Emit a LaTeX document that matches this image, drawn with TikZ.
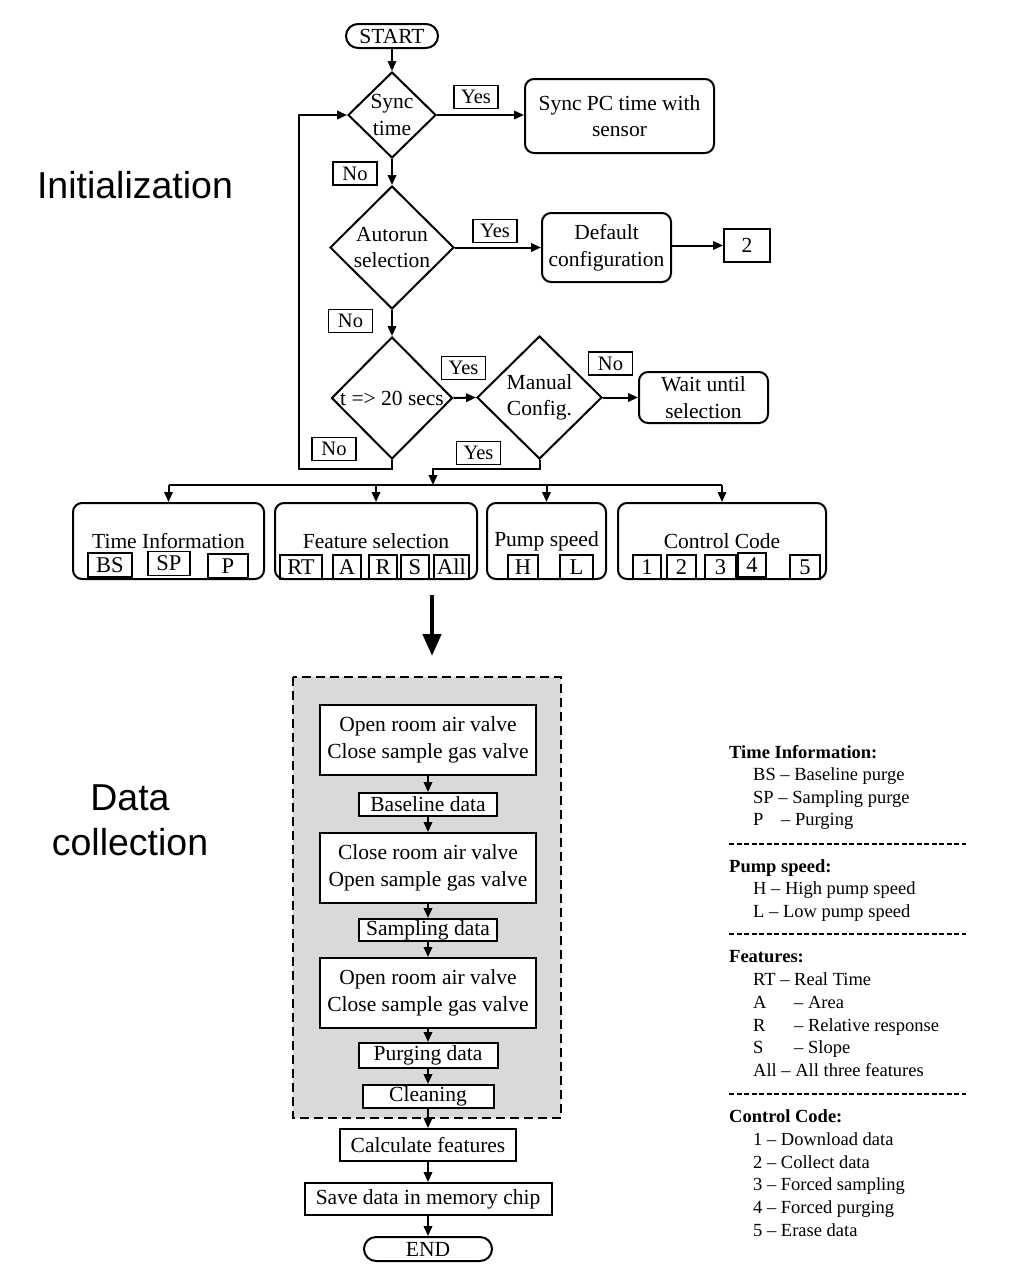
\documentclass[tikz,border=0pt]{standalone}
\usepackage{fontspec}
\setmainfont{Liberation Serif}
\newfontfamily\arialfont{Liberation Sans}
\usetikzlibrary{shapes.geometric,arrows.meta}
\newcommand\fA{\fontsize{21.5}{26.5}\selectfont}
\newcommand\fS{\fontsize{22.5}{26}\selectfont}
\newcommand\fB{\fontsize{20.5}{24}\selectfont}
\newcommand\fL{\fontsize{18.5}{22}\selectfont}
\newcommand\fT{\arialfont\fontsize{37.5}{45}\selectfont}
\definecolor{panelgray}{HTML}{D9D9D9}
\begin{document}
\begin{tikzpicture}[x=1pt,y=-1pt,
  ln/.style={line width=2pt},
  arr/.style={ln, -{Triangle[length=10pt,width=8.5pt]}},
  rbox/.style={draw, ln, rounded corners=9pt, align=center, inner sep=0pt, font=\fA},
  sbox/.style={draw, ln, align=center, inner sep=0pt, font=\fA, fill=white},
  pill/.style={draw, ln, rounded corners=12pt, inner sep=0pt, font=\fA, minimum height=24pt},
  yn/.style={draw, line width=1.8pt, inner sep=0pt, minimum width=44pt, minimum height=23pt, font=\fB},
  dia/.style={draw, ln, diamond, inner sep=0pt},
  sub/.style={draw, line width=1.8pt, inner sep=0pt, minimum height=24pt, font=\fS},
  lgh/.style={anchor=base west, inner sep=0pt, font=\fL\bfseries},
  lgi/.style={anchor=base west, inner sep=0pt, font=\fL},
  dsh/.style={line width=1.1pt, dash pattern=on 5pt off 2.5pt}
]
\useasboundingbox (0,0) rectangle (1024,1288);

% ---------- titles ----------
\node[font=\fT] (tinit) at (135,185) {Initialization};
\node[font=\fT, align=center] (tdata) at (130,820) {Data\\collection};

% ---------- initialization ----------
\node[pill, minimum width=92pt] (start) at (392,36) {START};
\node[dia, minimum width=88pt, minimum height=86pt,
  label={[font=\fA,align=center]center:Sync\\time}] (sync) at (392,115) {};
\node[rbox, minimum width=189pt, minimum height=74pt] (syncpc) at (619.5,116) {Sync PC time with\\sensor};
\node[dia, minimum width=124pt, minimum height=123pt,
  label={[font=\fA,align=center]center:Autorun\\selection}] (auto) at (392,247.5) {};
\node[rbox, minimum width=129pt, minimum height=69pt] (defc) at (606.5,247.5) {Default\\configuration};
\node[draw, ln, inner sep=0pt, minimum width=46pt, minimum height=33pt, font=\fA] (two) at (747,245.5) {2};
\node[dia, minimum width=121pt, minimum height=122pt,
  label={[font=\fA,align=center]center:t => 20 secs}] (tdia) at (392,398) {};
\node[dia, minimum width=125pt, minimum height=123pt,
  label={[font=\fA,align=center]center:Manual\\Config.}] (man) at (539.5,397.5) {};
\node[rbox, minimum width=129pt, minimum height=51pt] (wait) at (703.5,397.5) {Wait until\\selection};

\node[yn] (y1) at (476,97) {Yes};
\node[yn] (n1) at (355,173.5) {No};
\node[yn] (y2) at (495,231) {Yes};
\node[yn] (n2) at (350.5,321) {No};
\node[yn] (y3) at (463.5,368) {Yes};
\node[yn] (n3) at (610.5,363.5) {No};
\node[yn] (n4) at (334,449) {No};
\node[yn] (y4) at (478.5,453) {Yes};

\draw[arr] (start) -- (sync.north);
\draw[arr] (sync.east) -- (sync.east -| syncpc.west);
\draw[arr] (sync.south) -- (auto.north);
\draw[arr] (auto.east) -- (defc.west);
\draw[arr] (defc.east |- two.west) -- (two.west);
\draw[arr] (auto.south) -- (tdia.north);
\draw[arr] (tdia.east) -- (man.west);
\draw[arr] (man.east) -- (wait.west);

\coordinate (loopB) at (299,469);
\draw[arr] (tdia.south) |- (loopB) |- (sync.west);

\coordinate (busM) at (433,485);
\coordinate (bendM) at (433,469);
\draw[arr] (man.south) |- (bendM) -- (busM);

% ---------- option boxes ----------
\node[rbox, minimum width=191pt, minimum height=76pt] (bti) at (168.5,541) {};
\node[rbox, minimum width=202pt, minimum height=76pt] (bfs) at (376,541) {};
\node[rbox, minimum width=119pt, minimum height=76pt] (bps) at (546.5,541) {};
\node[rbox, minimum width=208pt, minimum height=76pt] (bcc) at (722,541) {};
\node[font=\fA, inner sep=0pt] (lti) at (168.5,541) {Time Information};
\node[font=\fA, inner sep=0pt] (lfs) at (376,541) {Feature selection};
\node[font=\fA, inner sep=0pt] (lps) at (546.5,541) {Pump speed};
\node[font=\fA, inner sep=0pt] (lcc) at (722,541) {Control Code};

\node[sub, minimum width=44pt] (sBS) at (110,565) {BS};
\node[sub, minimum width=42pt] (sSP) at (169,563.5) {SP};
\node[sub, minimum width=40pt] (sP) at (228,566) {P};
\node[sub, minimum width=42pt] (sRT) at (301,567) {RT};
\node[sub, minimum width=28pt] (sA) at (347,567) {A};
\node[sub, minimum width=28pt] (sR) at (383,567) {R};
\node[sub, minimum width=28pt] (sS) at (415,567) {S};
\node[sub, minimum width=35pt] (sAll) at (451.5,567) {All};
\node[sub, minimum width=30pt] (sH) at (523,567) {H};
\node[sub, minimum width=33pt] (sL) at (576.5,567) {L};
\node[sub, minimum width=28pt] (c1) at (647,567) {1};
\node[sub, minimum width=29pt] (c2) at (681.5,567) {2};
\node[sub, minimum width=31pt] (c3) at (720.5,567) {3};
\node[sub, minimum width=28pt] (c4) at (752,565) {4};
\node[sub, minimum width=30pt] (c5) at (805,567) {5};

\coordinate (bus1) at (168.5,485);
\coordinate (bus2) at (376,485);
\coordinate (bus3) at (546.5,485);
\coordinate (bus4) at (722,485);
\draw[ln] (bus1) -- (bus4);
\draw[arr] (bus1) -- (bti.north);
\draw[arr] (bus2) -- (bfs.north);
\draw[arr] (bus3) -- (bps.north);
\draw[arr] (bus4) -- (bcc.north);

% ---------- big arrow ----------
\coordinate (bigA) at (432,595);
\coordinate (bigB) at (432,656);
\draw[line width=4.5pt, -{Triangle[length=22pt,width=18pt]}] (bigA) -- (bigB);

% ---------- data collection ----------
\draw[fill=panelgray, line width=1.6pt, dash pattern=on 9pt off 5pt] (293,677) rectangle (561,1118);
\node[sbox, minimum width=216pt, minimum height=70pt] (d1) at (428,740) {Open room air valve\\Close sample gas valve};
\node[sbox, minimum width=138pt, minimum height=23pt] (d2) at (428,804.5) {Baseline data};
\node[sbox, minimum width=216pt, minimum height=70pt] (d3) at (428,868) {Close room air valve\\Open sample gas valve};
\node[sbox, minimum width=138pt, minimum height=22pt] (d4) at (428,930) {Sampling data};
\node[sbox, minimum width=216pt, minimum height=70pt] (d5) at (428,993) {Open room air valve\\Close sample gas valve};
\node[sbox, minimum width=139pt, minimum height=25pt] (d6) at (428,1055.5) {Purging data};
\node[sbox, minimum width=131pt, minimum height=23pt] (d7) at (428,1096.5) {Cleaning};
\node[sbox, minimum width=176pt, minimum height=32pt] (d8) at (428,1145) {Calculate features};
\node[sbox, minimum width=247pt, minimum height=32pt] (d9) at (428,1199) {Save data in memory chip};
\node[pill, minimum width=128pt] (endn) at (428,1249) {END};
\draw[arr] (d1) -- (d2);
\draw[arr] (d2) -- (d3);
\draw[arr] (d3) -- (d4);
\draw[arr] (d4) -- (d5);
\draw[arr] (d5) -- (d6);
\draw[arr] (d6) -- (d7);
\draw[arr] (d7) -- (d8);
\draw[arr] (d8) -- (d9);
\draw[arr] (d9) -- (endn);

% ---------- legend ----------
\node[lgh] (g1) at (729,758) {Time Information:};
\node[lgi] (g2) at (753,780) {BS -- Baseline purge};
\node[lgi] (g3) at (753,803) {SP -- Sampling purge};
\node[lgi] (g4) at (753,825) {\makebox[28pt][l]{P}-- Purging};
\coordinate (da1) at (729,844); \coordinate (db1) at (966,844);
\draw[dsh] (da1) -- (db1);
\node[lgh] (g5) at (729,872) {Pump speed:};
\node[lgi] (g6) at (753,894) {H -- High pump speed};
\node[lgi] (g7) at (753,917) {L -- Low pump speed};
\coordinate (da2) at (729,934); \coordinate (db2) at (966,934);
\draw[dsh] (da2) -- (db2);
\node[lgh] (g8) at (729,962) {Features:};
\node[lgi] (g9) at (753,985) {RT -- Real Time};
\node[lgi] (g10) at (753,1008) {\makebox[41pt][l]{A}-- Area};
\node[lgi] (g11) at (753,1031) {\makebox[41pt][l]{R}-- Relative response};
\node[lgi] (g12) at (753,1053) {\makebox[41pt][l]{S}-- Slope};
\node[lgi] (g13) at (753,1076) {All -- All three features};
\coordinate (da3) at (729,1094); \coordinate (db3) at (966,1094);
\draw[dsh] (da3) -- (db3);
\node[lgh] (g14) at (729,1122) {Control Code:};
\node[lgi] (g15) at (753,1145) {1 -- Download data};
\node[lgi] (g16) at (753,1168) {2 -- Collect data};
\node[lgi] (g17) at (753,1190) {3 -- Forced sampling};
\node[lgi] (g18) at (753,1213) {4 -- Forced purging};
\node[lgi] (g19) at (753,1236) {5 -- Erase data};
\end{tikzpicture}
\end{document}
